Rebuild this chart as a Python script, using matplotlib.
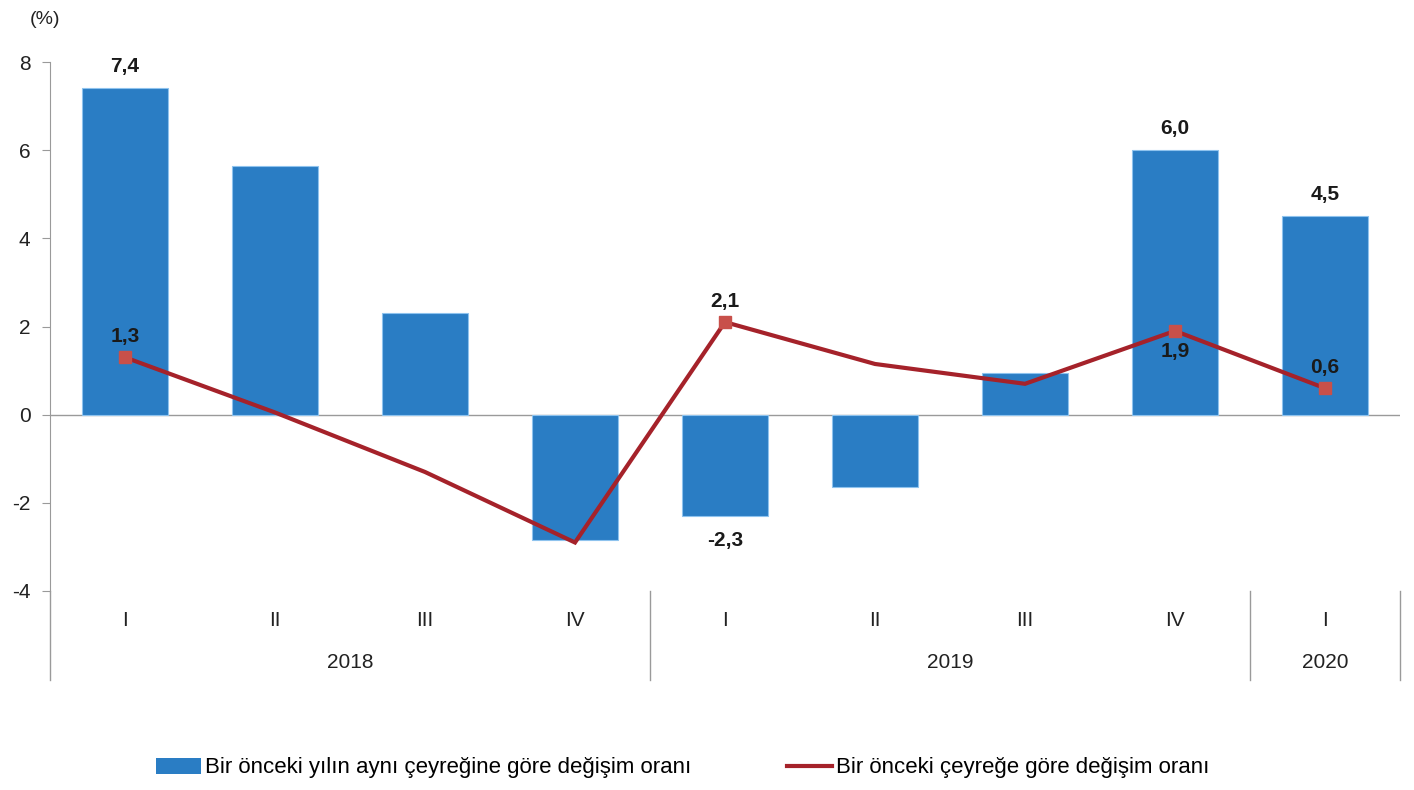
import matplotlib
matplotlib.use("Agg")
import matplotlib.pyplot as plt
from matplotlib.lines import Line2D
from matplotlib.patches import Patch

quarters = ["I", "II", "III", "IV", "I", "II", "III", "IV", "I"]
years = ["2018", "2019", "2020"]
year_spans = [(0, 3), (4, 7), (8, 8)]
annual_change = [7.4, 5.65, 2.3, -2.85, -2.3, -1.65, 0.95, 6.0, 4.5]
quarterly_change = [1.3, 0.05, -1.3, -2.9, 2.1, 1.15, 0.7, 1.9, 0.6]

# which points get labels / markers
bar_labels = {0: "7,4", 4: "-2,3", 7: "6,0", 8: "4,5"}
line_labels = {0: ("1,3", "above"), 4: ("2,1", "above"), 7: ("1,9", "below"), 8: ("0,6", "above")}

BAR_COLOR = "#2A7DC4"
LINE_COLOR = "#A5222A"
MARKER_COLOR = "#C8504A"
GRAY = "#9A9A9A"
TXT = "#222222"

plt.rcParams["font.family"] = ["Liberation Sans", "DejaVu Sans"]

fig = plt.figure(figsize=(14.14, 7.9), dpi=100)
ax = fig.add_axes([50 / 1414, 1 - 591 / 790, 1350 / 1414, 529 / 790])

x = list(range(len(quarters)))
ax.bar(x, annual_change, width=0.57, color=BAR_COLOR, edgecolor="#8EC3EE", linewidth=0.8, zorder=2)
ax.plot(x, quarterly_change, color=LINE_COLOR, lw=3, zorder=3, solid_joinstyle="miter")
mk = list(line_labels.keys())
ax.plot([x[i] for i in mk], [quarterly_change[i] for i in mk], ls="none", marker="s",
        ms=8, color=MARKER_COLOR, zorder=4)

for i, txt in bar_labels.items():
    v = annual_change[i]
    off = 9 if v >= 0 else -11
    ax.annotate(txt, (i, v), xytext=(0, off), textcoords="offset points",
                ha="center", va="bottom" if v >= 0 else "top",
                fontsize=15, fontweight="bold", color="#1A1A1A")
for i, (txt, pos) in line_labels.items():
    v = quarterly_change[i]
    off = 8 if pos == "above" else -8
    ax.annotate(txt, (i, v), xytext=(0, off), textcoords="offset points",
                ha="center", va="bottom" if pos == "above" else "top",
                fontsize=15, fontweight="bold", color="#1A1A1A")

ax.set_xlim(-0.5, 8.5)
ax.set_ylim(-4, 8)
ax.set_yticks([-4, -2, 0, 2, 4, 6, 8])
ax.set_yticklabels(["-4", "-2", "0", "2", "4", "6", "8"], fontsize=15, color=TXT)
ax.tick_params(axis="y", direction="out", length=6, color=GRAY, pad=8)
ax.set_xticks([])
for s in ["top", "right", "bottom"]:
    ax.spines[s].set_visible(False)
ax.spines["left"].set_color(GRAY)
ax.axhline(0, color=GRAY, lw=1, zorder=1)

# category axis below the plot
trans = ax.get_xaxis_transform()
ybot = -(680 - 591) / 529
ax.add_line(Line2D([-0.5, -0.5], [0, ybot], transform=trans, color=GRAY, lw=1, clip_on=False))
for sep in [3.5, 7.5, 8.5]:
    ax.add_line(Line2D([sep, sep], [0, ybot], transform=trans, color=GRAY, lw=1, clip_on=False))
for i, q in enumerate(quarters):
    ax.text(i, -(620 - 591) / 529, q, transform=trans, ha="center", va="center",
            fontsize=15, color=TXT)
for yr, (a, b) in zip(years, year_spans):
    ax.text((a + b) / 2, -(663 - 591) / 529, yr, transform=trans, ha="center", va="center",
            fontsize=15, color=TXT)

fig.text(45 / 1414, 1 - 20 / 790, "(%)", ha="center", va="center", fontsize=14, color=TXT)

handles = [Patch(facecolor=BAR_COLOR, edgecolor="none"),
           Line2D([], [], color=LINE_COLOR, lw=3)]
labels = ["Bir önceki yılın aynı çeyreğine göre değişim oranı",
          "Bir önceki çeyreğe göre değişim oranı"]
fig.legend(handles, labels, loc="center", bbox_to_anchor=(0.483, 1 - 768 / 790), ncol=2,
           frameon=False, fontsize=16, handlelength=2.0, handletextpad=0.2,
           columnspacing=4.3)

fig.savefig("out.png", dpi=100)
